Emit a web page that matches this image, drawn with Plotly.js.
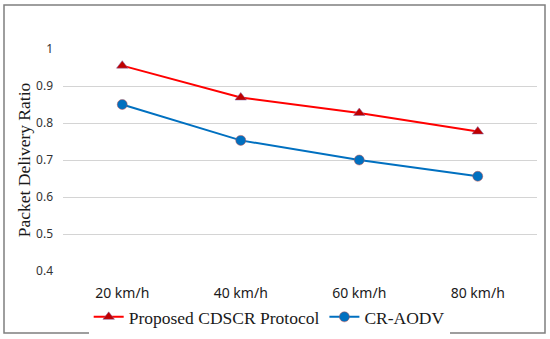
<!DOCTYPE html>
<html><head><meta charset="utf-8">
<script src="https://cdn.plot.ly/plotly-3.0.1.min.js"></script>
<style>html,body{margin:0;padding:0;background:#fff}#c{width:550px;height:339px}</style>
</head><body><div id="c"></div>
<script>
var categories = ["20 km/h", "40 km/h", "60 km/h", "80 km/h"];
var proposedCDSCR = [0.955, 0.869, 0.827, 0.777];
var crAODV = [0.850, 0.753, 0.700, 0.656];
var yTicks = [0.4, 0.5, 0.6, 0.7, 0.8, 0.9, 1];
var yTickText = ["0.4", "0.5", "0.6", "0.7", "0.8", "0.9", "1"];

var traces = [
  {x: categories, y: proposedCDSCR, name: "Proposed CDSCR Protocol", type: "scatter", mode: "lines+markers",
   line: {color: "#ff0000", width: 2}, marker: {symbol: "triangle-up", size: 10, color: "#c00000", line: {color: "#8064a2", width: 0.5}}},
  {x: categories, y: crAODV, name: "CR-AODV", type: "scatter", mode: "lines+markers",
   line: {color: "#0070c0", width: 2}, marker: {symbol: "circle", size: 10, color: "#0070c0", line: {color: "#c0504d", width: 0.5}}}
];
var layout = {
  width: 550, height: 339,
  margin: {l: 63, r: 13, t: 49, b: 68, autoexpand: false},
  paper_bgcolor: "#fff", plot_bgcolor: "#fff",
  showlegend: true,
  legend: {orientation: "h", x: 0.435, xanchor: "center", y: -0.207, yanchor: "middle",
           font: {family: "Liberation Serif, serif", size: 17.5, color: "#1a1a1a"}, itemwidth: 30, tracegroupgap: 0},
  xaxis: {type: "category", range: [-0.5, 3.5], showgrid: false, zeroline: false, showline: false, ticks: "",
          ticklabelstandoff: 12,
          tickfont: {family: "Noto Sans, sans-serif", size: 14, color: "#1a1a1a"}},
  yaxis: {range: [0.4, 1.0], tickvals: yTicks, ticktext: yTickText, showgrid: true, gridcolor: "#d4d4d4", gridwidth: 1,
          zeroline: false, showline: false, ticks: "", ticklabelstandoff: 9,
          tickfont: {family: "Noto Sans, sans-serif", size: 12, color: "#333"},
          title: {text: "Packet Delivery Ratio", standoff: 0, font: {family: "Liberation Serif, serif", size: 17.5, color: "#1a1a1a"}}},
  shapes: [{type: "rect", xref: "paper", yref: "paper",
            x0: (4 - 63) / 474, x1: (545 - 63) / 474, y0: (271 - 333) / 222, y1: (271 - 5) / 222,
            line: {color: "#7f7f7f", width: 1.5}, fillcolor: "rgba(0,0,0,0)", layer: "below"}]
};
Plotly.newPlot("c", traces, layout, {displayModeBar: false, staticPlot: true});
</script></body></html>
